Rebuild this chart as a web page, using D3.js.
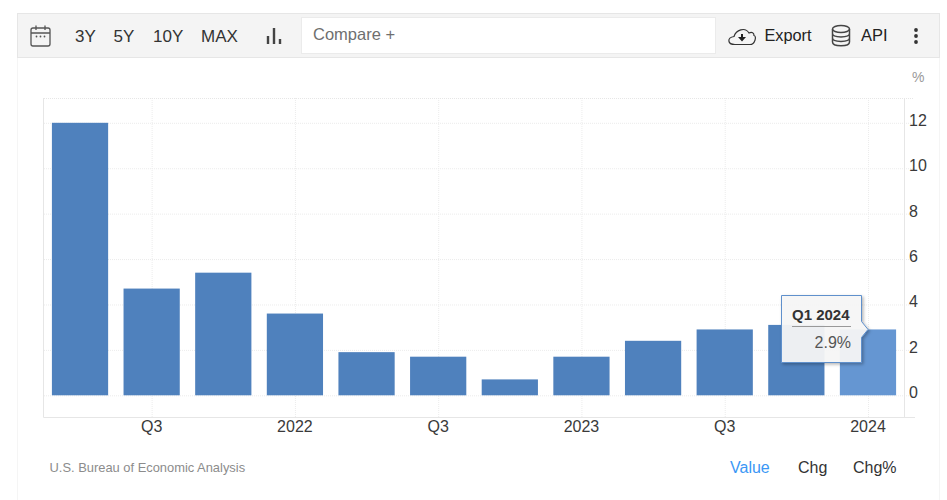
<!DOCTYPE html>
<html>
<head>
<meta charset="utf-8">
<script src="https://cdn.jsdelivr.net/npm/d3@7"></script>
<style>
html,body{margin:0;padding:0;background:#fff;overflow:hidden}
svg{display:block;font-family:"Liberation Sans",Arial,sans-serif}
.tick text{fill:#3a3a3a;font-size:16px}
.domain{display:none}
.tick line{stroke:#ececec;stroke-width:1;stroke-dasharray:1 1}
</style>
</head>
<body>
<svg id="c" width="947" height="500"></svg>
<script>
const quarters = ["Q2 2021","Q3 2021","Q4 2021","Q1 2022","Q2 2022","Q3 2022","Q4 2022","Q1 2023","Q2 2023","Q3 2023","Q4 2023","Q1 2024"];
const values = [12.0,4.7,5.4,3.6,1.9,1.7,0.7,1.7,2.4,2.9,3.1,2.9];
const xTickQuarters = ["Q3 2021","Q1 2022","Q3 2022","Q1 2023","Q3 2023","Q1 2024"];
const xTickLabels = ["Q3","2022","Q3","2023","Q3","2024"];
const yTicks = [0,2,4,6,8,10,12];
const rangeButtons = [["3Y",75],["5Y",113.5],["10Y",153],["MAX",201]];
const modeButtons = [["Value",730,"#3b97f5"],["Chg",798,"#333"],["Chg%",853,"#333"]];
const activeQuarter = "Q1 2024";
const source = "U.S. Bureau of Economic Analysis";

const svg = d3.select("#c");
const L=44,R=904,T=98,B=417;
const x = d3.scaleBand().domain(quarters).range([L+0.2,R-0.2]).paddingInner(0.215).paddingOuter(0.1075);
const y = d3.scaleLinear().domain([0,12]).range([395.3,122.8]);

// outer container
svg.append("rect").attr("x",17.5).attr("y",13.5).attr("width",922).attr("height",490).attr("fill","#fff").attr("stroke","#f5f5f5");
// toolbar
svg.append("rect").attr("x",17.5).attr("y",13.5).attr("width",922).attr("height",44).attr("fill","#f4f4f4").attr("stroke","#e6e6e6");
svg.append("rect").attr("x",301.5).attr("y",17.5).attr("width",414).attr("height",36).attr("fill","#fff").attr("stroke","#ebebeb");

const tb = svg.append("g").attr("font-size",17).attr("fill","#333");
tb.selectAll("text.r").data(rangeButtons).join("text").attr("class","r")
  .attr("x",d=>d[1]).attr("y",42).text(d=>d[0]);
svg.append("text").attr("x",313).attr("y",40).attr("font-size",16.5).attr("fill","#6f6f6f").text("Compare +");
svg.append("text").attr("x",764.5).attr("y",41).attr("font-size",16.3).attr("fill","#222").text("Export");
svg.append("text").attr("x",861).attr("y",41).attr("font-size",16.5).attr("fill","#222").text("API");

// calendar icon
const cal = svg.append("g").attr("fill","none").attr("stroke","#555").attr("stroke-width",1.3);
cal.append("rect").attr("x",31).attr("y",28).attr("width",19).attr("height",18).attr("rx",2);
cal.append("path").attr("d","M31 33H50M36 25.5V30M45 25.5V30");
svg.append("g").attr("fill","#555").selectAll("circle").data([36.5,40.5,44.5]).join("circle")
  .attr("cx",d=>d).attr("cy",36.5).attr("r",0.9);
// bars icon
svg.append("path").attr("d","M268 36V44M274 28V44M280 39V44").attr("stroke","#444").attr("stroke-width",2.4).attr("fill","none");
// cloud icon
svg.append("path").attr("fill","none").attr("stroke","#333").attr("stroke-width",1.2)
  .attr("d","M735 44.5C727 44.5 727 37.5 734 36.5C736 30 745 26.5 749 33C752 31.5 754 33 754 35.5C757 36 755 44.5 750 44.5Z");
svg.append("path").attr("fill","#222").attr("d","M738 37h3v-3h2v3h3l-4 4.5z");
// database icon
const db = svg.append("g").attr("fill","none").attr("stroke","#444").attr("stroke-width",1.5);
db.append("ellipse").attr("cx",841).attr("cy",29).attr("rx",8.5).attr("ry",3.5);
db.append("path").attr("d","M832.5 29V42C832.5 47 849.5 47 849.5 42V29M832.5 33.5C832.5 38 849.5 38 849.5 33.5M832.5 38C832.5 42.5 849.5 42.5 849.5 38");
// kebab
svg.append("g").attr("fill","#333").selectAll("circle").data([30,36,42]).join("circle")
  .attr("cx",916).attr("cy",d=>d).attr("r",1.9);

svg.append("text").attr("x",912).attr("y",82).attr("font-size",14).attr("fill","#999").text("%");

// grid via axes
const yAxis = svg.append("g").attr("transform",`translate(${L},0)`)
  .call(d3.axisRight(y).tickValues(yTicks).tickSize(R-L).tickPadding(5).tickFormat(d3.format("d")));
yAxis.selectAll(".tick text").attr("x",R-L+5).attr("y",-3).attr("dy","0.34em");
yAxis.selectAll(".tick line").attr("x2",869);

const xAxisScale = d3.scalePoint().domain(quarters).range([x(quarters[0])+x.bandwidth()/2, x(quarters[11])+x.bandwidth()/2]);
const xAxis = svg.append("g").attr("transform",`translate(0,${B})`)
  .call(d3.axisBottom(xAxisScale).tickValues(xTickQuarters)
    .tickFormat(d=>xTickLabels[xTickQuarters.indexOf(d)]).tickSize(-(B-T)).tickPadding(0));
xAxis.selectAll(".tick text").attr("x",-0.5).attr("y",10).attr("dy","0.34em");

// frame
svg.append("path").attr("d",`M${L-.5} ${T}V${B+.5}H915M${R+.5} ${T}V${B}`).attr("fill","none").attr("stroke","#e6e6e6");
svg.append("path").attr("d",`M${L} ${T+.5}H913`).attr("fill","none").attr("stroke","#e6e6e6").attr("stroke-dasharray","1 1");

// bars
svg.append("g").selectAll("rect").data(values).join("rect")
  .attr("x",(d,i)=>x(quarters[i])).attr("width",x.bandwidth())
  .attr("y",d=>y(d)).attr("height",d=>y(0)-y(d))
  .attr("fill",(d,i)=>quarters[i]===activeQuarter?"#6596d2":"#4f81bd");

// source and mode buttons
svg.append("text").attr("x",49.5).attr("y",472).attr("font-size",12.9).attr("fill","#8c8c8c").text(source);
svg.append("g").attr("font-size",16).selectAll("text").data(modeButtons).join("text")
  .attr("x",d=>d[1]).attr("y",473).attr("fill",d=>d[2]).text(d=>d[0]);

// tooltip
const defs = svg.append("defs");
const f = defs.append("filter").attr("id","sh").attr("x","-20%").attr("y","-20%").attr("width","140%").attr("height","140%");
f.append("feDropShadow").attr("dx",1.5).attr("dy",1.5).attr("stdDeviation",1.5).attr("flood-color","#000").attr("flood-opacity",0.3);
const ai = quarters.indexOf(activeQuarter);
const ax = x(activeQuarter)+x.bandwidth()/2, ay = y(values[ai]);
svg.append("path")
  .attr("d",`M781.5 295.5H861.5V${ay-8}L868 ${ay}L861.5 ${ay+8}V362.5H781.5Z`)
  .attr("fill","#f7f7f7").attr("fill-opacity",0.93)
  .attr("stroke","#5f90cc").attr("stroke-width",1).attr("filter","url(#sh)");
svg.append("text").attr("x",792).attr("y",320).attr("font-size",15).attr("font-weight","bold").attr("fill","#333").text(activeQuarter);
svg.append("line").attr("x1",792).attr("x2",851).attr("y1",326.5).attr("y2",326.5).attr("stroke","#999");
svg.append("text").attr("x",851).attr("y",348).attr("text-anchor","end").attr("font-size",16).attr("fill","#555").text(values[ai].toFixed(1)+"%");
</script>
</body>
</html>
